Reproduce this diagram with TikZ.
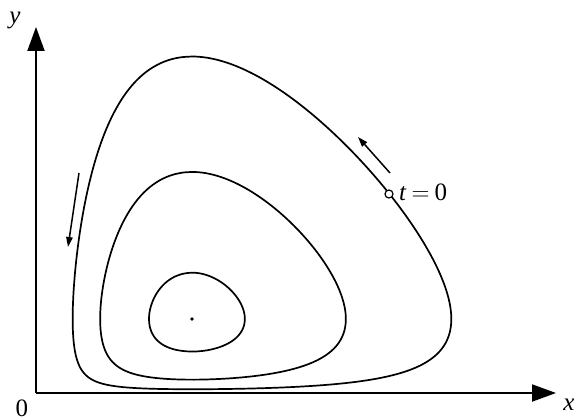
\documentclass[tikz,border=0pt]{standalone}
\usepackage{fontspec}
\setmainfont{Liberation Serif}
\usetikzlibrary{arrows.meta}
% Newton solve of exp(z)-z-1 = q on the branch with the given sign
\def\LVstep{\pgfmathsetmacro\LVz{\LVz-(exp(\LVz)-(\LVz)-1-\LVq)/(exp(\LVz)-1)}}
\def\LVsolve#1#2{% #1 = q, #2 = sign value
  \pgfmathsetmacro\LVq{#1}%
  \ifdim #2pt>0pt \pgfmathsetmacro\LVz{sqrt(2*\LVq)+0.05}%
  \else \pgfmathsetmacro\LVz{-(\LVq+1)}\fi
  \LVstep\LVstep\LVstep\LVstep\LVstep\LVstep\LVstep\LVstep\LVstep\LVstep}
% build orbit list: #1 = level C, result in \LVlist
\def\LVorbit#1{%
  \gdef\LVlist{}%
  \foreach \t in {1,3,...,359}{%
    \pgfmathsetmacro\LVc{cos(\t)}%
    \pgfmathsetmacro\LVs{sin(\t)}%
    \LVsolve{#1*\LVc*\LVc}{\LVc}%
    \pgfmathsetmacro\LVpx{36+156*exp(\LVz)}%
    \LVsolve{#1/0.336*\LVs*\LVs}{\LVs}%
    \pgfmathsetmacro\LVpy{393-74*exp(\LVz)}%
    \xdef\LVlist{\LVlist (\LVpx,\LVpy)}%
  }}
\begin{document}
\begin{tikzpicture}[x=1pt,y=-1pt,
  curve/.style={line width=1.7pt},
  axis/.style={line width=2pt,-{Triangle[length=24pt,width=17pt]}},
  flow/.style={line width=1.5pt,-{Triangle[length=10pt,width=6.5pt]}},
  lbl/.style={font=\fontsize{25}{30}\selectfont,inner sep=0pt}]
\useasboundingbox (0,0) rectangle (578,420);
\coordinate (O) at (36,393);
\coordinate (Y) at (36,27);
\coordinate (X) at (556,393);
\draw[axis] (O) -- (Y);
\draw[axis] (O) -- (X);
\node[lbl] (ly) at (15,20) {\textit{y}};
\node[lbl] (l0) at (22,408) {0};
\node[lbl] (lx) at (569,405) {\textit{x}};
% orbits (Lotka-Volterra level curves)
\LVorbit{0.683}
\edef\LVdraw{\noexpand\draw[curve] plot[smooth cycle] coordinates {\LVlist};}\LVdraw
\LVorbit{0.300}
\edef\LVdraw{\noexpand\draw[curve] plot[smooth cycle] coordinates {\LVlist};}\LVdraw
\LVorbit{0.047}
\edef\LVdraw{\noexpand\draw[curve] plot[smooth cycle] coordinates {\LVlist};}\LVdraw
% equilibrium
\fill (192,319) circle (1.8pt);
% start point
\coordinate (s0) at (389,194);
\draw[line width=1.2pt,fill=white] (s0) circle (4pt);
\node[lbl,anchor=west] (lt) at (399,192) {\textit{t}\hspace{5pt}$=$\hspace{5pt}0};
% direction arrows
\coordinate (a1) at (390,173);
\coordinate (a2) at (358,137);
\draw[flow] (a1) -- (a2);
\coordinate (b1) at (79,173);
\coordinate (b2) at (68,247);
\draw[flow] (b1) -- (b2);
\end{tikzpicture}
\end{document}
